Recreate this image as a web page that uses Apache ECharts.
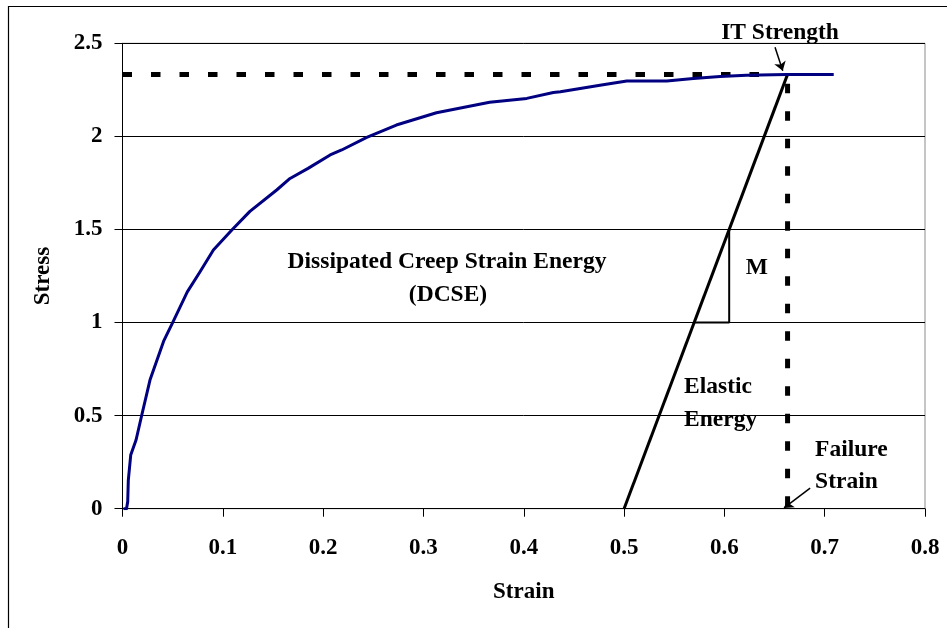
<!DOCTYPE html>
<html>
<head>
<meta charset="utf-8">
<script src="https://cdn.jsdelivr.net/npm/echarts@6/dist/echarts.min.js"></script>
<style>
  html, body { margin: 0; padding: 0; background: #fff; }
  #chart { width: 947px; height: 628px; }
</style>
</head>
<body>
<div id="chart"></div>
<script>
// Creep stress-strain curve
const strain = [0.001, 0.004, 0.0052, 0.0058, 0.0082, 0.0135, 0.019, 0.0274, 0.041, 0.050, 0.0646,
  0.077, 0.0906, 0.109, 0.127, 0.1537, 0.167, 0.185, 0.207, 0.2185, 0.2435, 0.273, 0.313,
  0.366, 0.403, 0.4295, 0.4365, 0.476, 0.5027, 0.5426, 0.569, 0.5957, 0.622, 0.662, 0.709];
const stress = [0, 0, 0.038, 0.154, 0.288, 0.369, 0.498, 0.691, 0.90, 1.0, 1.165,
  1.27, 1.39, 1.497, 1.597, 1.712, 1.774, 1.828, 1.90, 1.927, 1.995, 2.061, 2.127,
  2.183, 2.204, 2.236, 2.24, 2.275, 2.297, 2.297, 2.311, 2.322, 2.328, 2.333, 2.333];

// Key quantities
const itStrength = 2.333;
const failureStrain = 0.663;
const elasticStart = 0.5;        // strain where the unloading line meets zero stress
const slopeStress = [1, 1.5];    // stress range of the slope (M) triangle

// Axis ticks
const xTicks = [0, 0.1, 0.2, 0.3, 0.4, 0.5, 0.6, 0.7, 0.8];
const yTicks = [0, 0.5, 1, 1.5, 2, 2.5];

// Text annotations [strain, stress, text, align]
const notes = [
  [0.3235, 1.3245, 'Dissipated Creep Strain Energy', 'center'],
  [0.3245, 1.147, '(DCSE)', 'center'],
  [0.6323, 1.291, 'M', 'center'],
  [0.5598, 0.654, 'Elastic', 'left'],
  [0.5598, 0.4764, 'Energy', 'left'],
  [0.6904, 0.3152, 'Failure', 'left'],
  [0.6904, 0.1434, 'Strain', 'left'],
  [0.6555, 2.555, 'IT Strength', 'center']
];
// Pointer arrows [[fromX, fromY], [toX, toY]]
const arrows = [
  [[0.6505, 2.479], [0.6582, 2.352]],
  [[0.6855, 0.111], [0.6595, 0.004]]
];

const FONT = 'Liberation Serif';
const slope = (failureStrain - elasticStart) / itStrength;
const xAt = s => elasticStart + slope * s;

const chart = echarts.init(document.getElementById('chart'), null, { renderer: 'canvas' });
chart.setOption({
  animation: false,
  backgroundColor: '#fff',
  grid: { left: 122.5, right: 22, top: 43.3, bottom: 119.3, show: true, borderColor: '#8c8c8c', borderWidth: 1 },
  xAxis: {
    type: 'value', min: xTicks[0], max: xTicks[xTicks.length - 1], interval: 0.1,
    name: 'Strain', nameLocation: 'middle', nameGap: 72,
    nameTextStyle: { fontFamily: FONT, fontWeight: 'bold', fontSize: 23, color: '#000' },
    axisLine: { show: true, onZero: false, lineStyle: { color: '#000', width: 1 } },
    axisTick: { show: true, length: 8, lineStyle: { color: '#000' } },
    axisLabel: { margin: 28, fontFamily: FONT, fontWeight: 'bold', fontSize: 23, color: '#000',
      formatter: v => String(+v.toFixed(1)) },
    splitLine: { show: false }
  },
  yAxis: {
    type: 'value', min: yTicks[0], max: yTicks[yTicks.length - 1], interval: 0.5,
    name: 'Stress', nameLocation: 'middle', nameGap: 68, nameRotate: 90,
    nameTextStyle: { fontFamily: FONT, fontWeight: 'bold', fontSize: 23, color: '#000' },
    axisLine: { show: true, onZero: false, lineStyle: { color: '#000', width: 1 } },
    axisTick: { show: true, length: 8, lineStyle: { color: '#000' } },
    axisLabel: { margin: 20, fontFamily: FONT, fontWeight: 'bold', fontSize: 23, color: '#000',
      formatter: v => String(+v.toFixed(1)) },
    splitLine: { show: true, lineStyle: { color: '#000', width: 1 } }
  },
  graphic: [{
    type: 'rect', shape: { x: 8.5, y: 6.5, width: 960, height: 640 },
    style: { fill: 'none', stroke: '#000', lineWidth: 1.2 }, z: 100
  }],
  series: [
    {
      name: 'IT strength', type: 'line', symbol: 'none', z: 3,
      data: [[0, itStrength], [failureStrain - 0.01, itStrength]],
      lineStyle: { color: '#000', width: 5, type: [9.5, 19] }
    },
    {
      name: 'Failure strain', type: 'line', symbol: 'none', z: 3,
      data: [[failureStrain, itStrength - 0.05], [failureStrain, 0]],
      lineStyle: { color: '#000', width: 5, type: [9.5, 18] }
    },
    {
      name: 'Elastic unloading', type: 'line', symbol: 'none', z: 4,
      data: [[elasticStart, 0], [failureStrain, itStrength]],
      lineStyle: { color: '#000', width: 3 }
    },
    {
      name: 'Slope M', type: 'line', symbol: 'none', z: 4,
      data: [[xAt(slopeStress[0]), slopeStress[0]], [xAt(slopeStress[1]), slopeStress[0]], [xAt(slopeStress[1]), slopeStress[1]]],
      lineStyle: { color: '#000', width: 2 }
    },
    {
      name: 'Stress-strain', type: 'line', symbol: 'none', z: 5,
      data: strain.map((s, i) => [s, stress[i]]),
      lineStyle: { color: '#000080', width: 3, join: 'round' }
    },
    {
      name: 'Pointers', type: 'lines', coordinateSystem: 'cartesian2d', z: 6,
      symbol: ['none', 'arrow'], symbolSize: 9,
      lineStyle: { color: '#000', width: 1.5, opacity: 1, curveness: 0 },
      data: arrows.map(a => ({ coords: a }))
    },
    {
      name: 'Notes', type: 'scatter', symbolSize: 0, clip: false, z: 7, silent: true,
      itemStyle: { opacity: 1 },
      data: notes.map(n => ({
        value: [n[0], n[1]],
        label: {
          show: true, position: 'inside', formatter: n[2], align: n[3], verticalAlign: 'middle',
          fontFamily: FONT, fontWeight: 'bold', fontSize: 23.5, color: '#000', opacity: 1
        }
      }))
    }
  ]
});
</script>
</body>
</html>
